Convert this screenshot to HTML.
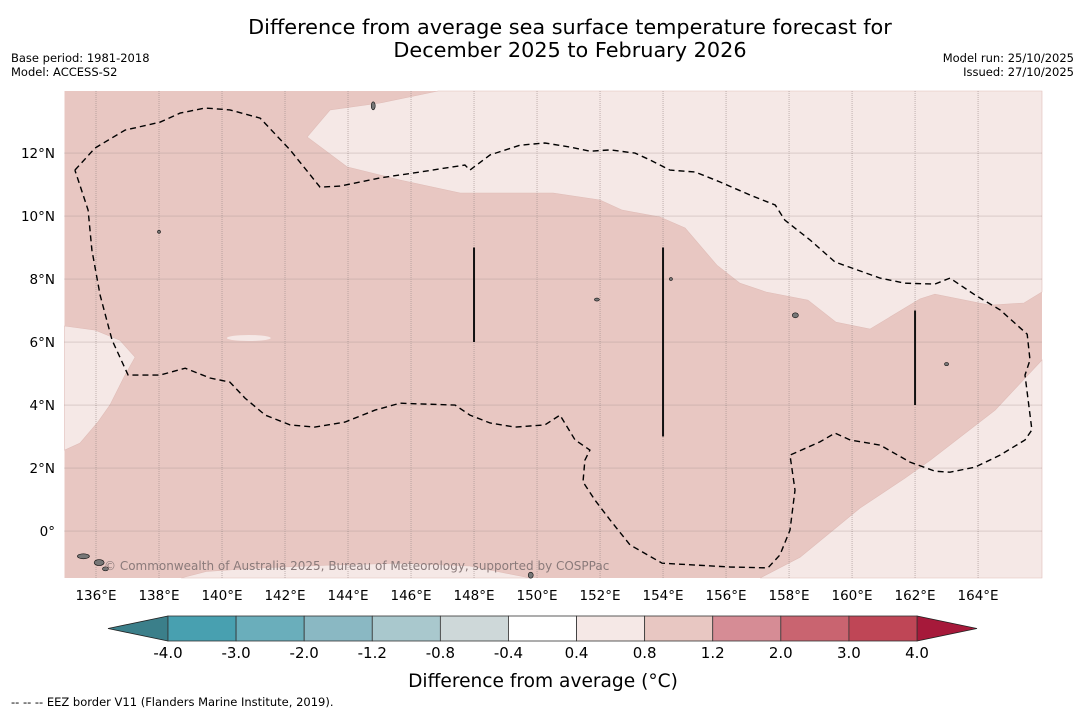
<!DOCTYPE html>
<html><head><meta charset="utf-8"><style>
body{margin:0;background:#fff;width:1085px;height:713px;overflow:hidden;font-family:"DejaVu Sans","Liberation Sans",sans-serif}
</style></head><body>
<svg id="s" width="1085" height="713" xmlns="http://www.w3.org/2000/svg" font-family="DejaVu Sans, Liberation Sans, sans-serif">
<text x="570" y="34" font-size="20.8" text-anchor="middle">Difference from average sea surface temperature forecast for</text>
<text x="570" y="57" font-size="20.8" text-anchor="middle">December 2025 to February 2026</text>
<text x="11" y="62" font-size="11.5">Base period: 1981-2018</text>
<text x="11" y="76" font-size="11.5">Model: ACCESS-S2</text>
<text x="1074" y="62" font-size="11.5" text-anchor="end">Model run: 25/10/2025</text>
<text x="1074" y="76" font-size="11.5" text-anchor="end">Issued: 27/10/2025</text>
<g id="map"></g>
<g id="cbar"></g>
<text x="543" y="687" font-size="18.6" text-anchor="middle">Difference from average (°C)</text>
<text x="11" y="706" font-size="11.5">--  --  -- EEZ border V11 (Flanders Marine Institute, 2019).</text>
</svg>
<script>
const lonTicks=[136,138,140,142,144,146,148,150,152,154,156,158,160,162,164];
const latTicks=[0,2,4,6,8,10,12];
const latLabels=["0°","2°N","4°N","6°N","8°N","10°N","12°N"];
const regionNE=[[146.86,13.97],[145.02,13.59],[143.43,13.37],[142.70,12.51],[143.97,11.56],[145.65,11.14],[147.56,10.73],[150.51,10.73],[152.0,10.51],[152.70,10.19],[153.90,9.97],[154.70,9.62],[155.71,8.44],[156.44,7.87],[157.27,7.59],[158.60,7.33],[159.49,6.63],[160.57,6.41],[162.16,7.37],[162.63,7.52],[164.38,7.17],[165.46,7.24],[166.03,7.59],[166.03,13.97]];
const regionSE=[[166.03,5.43],[164.54,3.84],[162.48,2.25],[161.68,1.68],[160.25,0.73],[158.35,-0.83],[157.08,-1.49],[166.03,-1.49]];
const regionW=[[135,6.51],[135.97,6.38],[136.76,6.06],[137.24,5.52],[136.92,4.95],[136.44,4.0],[136.06,3.46],[135.49,2.79],[135,2.57]];
const regionS=[[138.7,-1.49],[139.5,-1.28],[141.21,-1.17],[143.43,-1.08],[145.65,-1.02],[147.87,-1.11],[149.78,-1.49]];
const eez=[[135.33,11.46],[135.97,12.16],[136.92,12.73],[138.03,12.98],[138.67,13.27],[139.46,13.43],[140.25,13.37],[141.21,13.11],[142.16,12.10],[143.11,10.92],[143.75,10.95],[145.02,11.21],[146.29,11.40],[147.71,11.62],[147.87,11.46],[148.51,11.94],[149.46,12.25],[150.25,12.32],[151.05,12.19],[151.68,12.06],[152.32,12.10],[153.11,12.00],[153.59,11.78],[154.22,11.46],[155.02,11.40],[155.81,11.08],[156.76,10.67],[157.56,10.35],[157.87,9.87],[158.67,9.24],[159.46,8.54],[160.89,8.03],[161.68,7.87],[162.63,7.84],[163.11,8.03],[163.91,7.49],[164.70,7.02],[165.56,6.25],[165.65,5.43],[165.49,4.95],[165.71,3.21],[165.49,2.89],[164.70,2.41],[163.91,2.03],[163.11,1.87],[162.63,1.90],[161.84,2.19],[160.89,2.73],[159.94,2.89],[159.46,3.11],[158.98,2.83],[158.03,2.41],[158.19,1.30],[158.03,0.03],[157.71,-0.76],[157.33,-1.17],[156.13,-1.14],[153.97,-1.02],[152.95,-0.44],[152.32,0.35],[151.84,0.98],[151.46,1.56],[151.52,2.25],[151.68,2.57],[151.21,2.89],[150.73,3.68],[150.25,3.37],[149.30,3.30],[148.51,3.43],[147.87,3.68],[147.40,4.00],[145.65,4.06],[144.86,3.84],[143.90,3.46],[142.95,3.30],[142.16,3.37],[141.37,3.68],[140.73,4.22],[140.25,4.73],[139.62,4.86],[138.83,5.17],[138.03,4.95],[137.02,4.95],[136.51,6.06],[136.13,7.49],[135.87,8.92],[135.75,10.19],[135.49,10.98],[135.33,11.46]];
const vlines=[[148,6,9],[154,3,9],[162,4,7]];
const islands=[[135.6,-0.8,6,2.5],[136.1,-1.0,5,3],[136.3,-1.2,3,2],[144.8,13.5,2,4],[154.25,8.0,1.5,1.5],[158.2,6.85,3,2.5],[151.9,7.35,2.5,1.5],[163.0,5.3,2,1.5],[138.0,9.5,1.5,1.5],[149.8,-1.4,2.5,3]];
const cbLevels=["-4.0","-3.0","-2.0","-1.2","-0.8","-0.4","0.4","0.8","1.2","2.0","3.0","4.0"];
const cbColors=["#48a0b0","#6aaebb","#8ab8c3","#a9c8cd","#ced8d9","#ffffff","#f5e8e6","#e8c7c2","#d68c95","#c96470","#bf4656"];

const NS="http://www.w3.org/2000/svg";
const X0=64.5,X1=1042,Y0=91,Y1=578,LON0=135,LON1=166.03,LAT0=-1.49,LAT1=13.97;
const xs=l=>X0+(l-LON0)/(LON1-LON0)*(X1-X0);
const ys=l=>Y1-(l-LAT0)/(LAT1-LAT0)*(Y1-Y0);
function mk(t,a,p){const e=document.createElementNS(NS,t);for(const k in a)e.setAttribute(k,a[k]);p.appendChild(e);return e;}
const map=document.getElementById('map');
const bg=mk('rect',{x:X0,y:Y0,width:X1-X0,height:Y1-Y0,fill:'#e8c7c2'},map);


const pts=a=>a.map(p=>xs(p[0]).toFixed(1)+','+ys(p[1]).toFixed(1)).join(' ');
[[regionNE,'region-ne-light'],[regionSE,'region-se-light'],[regionW,'region-w-light'],[regionS,'region-s-light']].forEach(([r,n])=>{
 const e=mk('polygon',{points:pts(r),fill:'#f5e8e6',stroke:'#e0bdb8','stroke-width':0.6},map);
 
 
});
const ell=mk('ellipse',{cx:xs(140.85),cy:ys(6.13),rx:22,ry:3,fill:'#f5e8e6'},map);


lonTicks.forEach(l=>{
 const g=mk('line',{x1:xs(l),x2:xs(l),y1:Y0,y2:Y1,stroke:'#9a8a88','stroke-width':0.6,'stroke-dasharray':'1,1'},map);
 
 
 const t=mk('text',{x:xs(l),y:600,'font-size':13.5,'text-anchor':'middle'},map);t.textContent=l+'°E';
 
 
});
latTicks.forEach((l,i)=>{
 const g=mk('line',{x1:X0,x2:X1,y1:ys(l),y2:ys(l),stroke:'#9a8a88','stroke-width':0.6,'stroke-dasharray':'1,1'},map);
 
 
 const t=mk('text',{x:55,y:ys(l)+5,'font-size':13.5,'text-anchor':'end'},map);t.textContent=latLabels[i];
 
 
});
islands.forEach(d=>{
 const e=mk('ellipse',{cx:xs(d[0]),cy:ys(d[1]),rx:d[2],ry:d[3],fill:'#777',stroke:'#111','stroke-width':0.6},map);
 
 
});
const ez=mk('polyline',{points:pts(eez),fill:'none',stroke:'#000','stroke-width':1.4,'stroke-dasharray':'6,4'},map);


vlines.forEach(v=>{
 const e=mk('line',{x1:xs(v[0]),x2:xs(v[0]),y1:ys(v[1]),y2:ys(v[2]),stroke:'#111','stroke-width':2},map);
 
 
});
const cr=mk('text',{x:104,y:570,'font-size':12,fill:'#8a7a7a'},map);cr.textContent='© Commonwealth of Australia 2025, Bureau of Meteorology, supported by COSPPac';


const cb=document.getElementById('cbar');
const CX0=168,CX1=917,CY=616,CH=25,n=cbColors.length,w=(CX1-CX0)/n;
const lt=mk('polygon',{points:`108,${CY+CH/2} ${CX0},${CY} ${CX0},${CY+CH}`,fill:'#3b7f8a',stroke:'#222','stroke-width':0.8},cb);


const rt=mk('polygon',{points:`977,${CY+CH/2} ${CX1},${CY} ${CX1},${CY+CH}`,fill:'#a6193a',stroke:'#222','stroke-width':0.8},cb);


cbColors.forEach((c,i)=>{
 const r=mk('rect',{x:CX0+i*w,y:CY,width:w,height:CH,fill:c,stroke:'#333','stroke-width':0.8},cb);
 
 
});
cbLevels.forEach((l,i)=>{
 const t=mk('text',{x:CX0+i*w,y:658,'font-size':15,'text-anchor':'middle'},cb);t.textContent=l;
 
 
});
</script>
</body></html>
